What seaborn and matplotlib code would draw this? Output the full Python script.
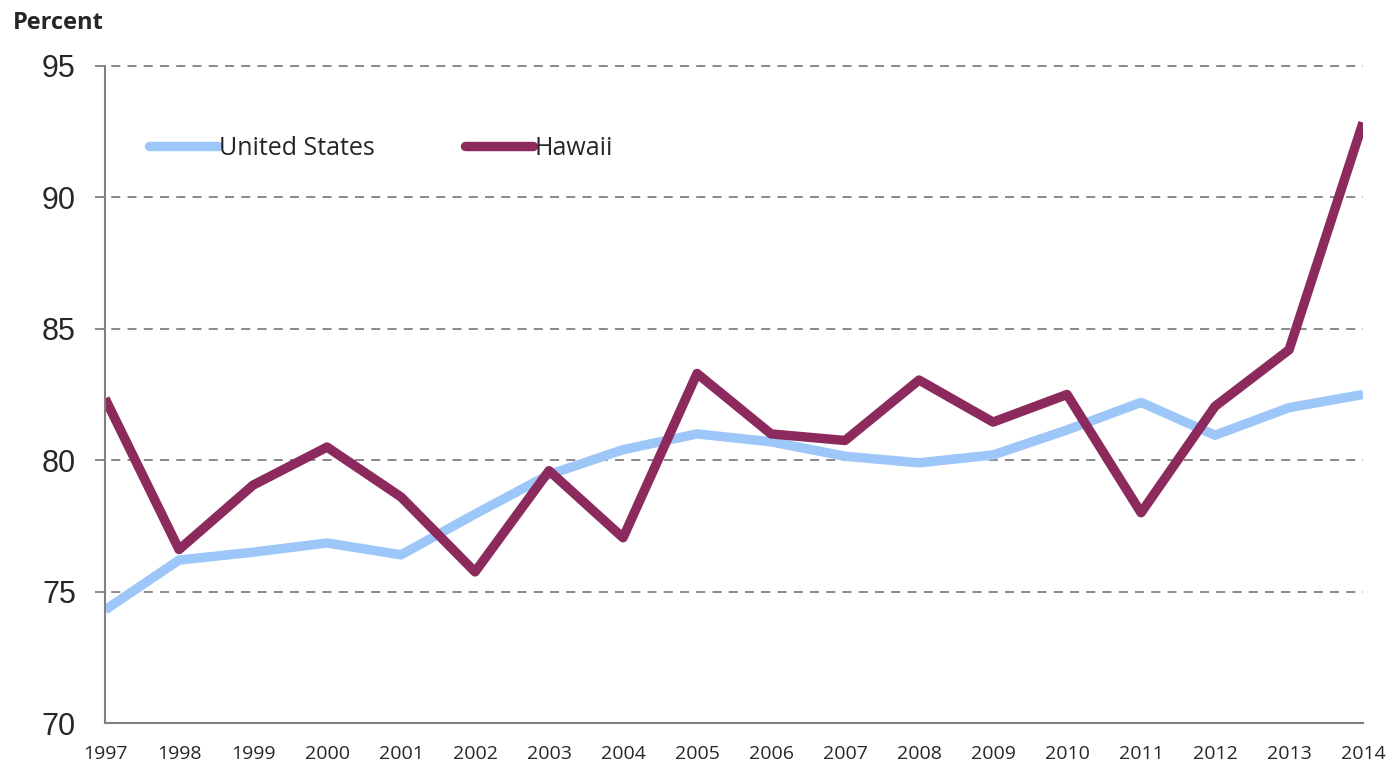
import pandas as pd
import seaborn as sns
import matplotlib.pyplot as plt
from matplotlib.lines import Line2D

# data
years = list(range(1997, 2015))
us_values = [74.3, 76.2, 76.5, 76.85, 76.4, 77.95, 79.45, 80.4, 81.0, 80.7,
             80.15, 79.9, 80.2, 81.15, 82.2, 80.95, 82.0, 82.5]
hawaii_values = [82.35, 76.6, 79.05, 80.5, 78.6, 75.75, 79.6, 77.05, 83.3, 81.0,
                 80.75, 83.05, 81.45, 82.5, 78.0, 82.05, 84.2, 92.85]
series_names = ['United States', 'Hawaii']
y_ticks = [70, 75, 80, 85, 90, 95]

df = pd.concat([
    pd.DataFrame({'year': years, 'value': us_values, 'series': series_names[0]}),
    pd.DataFrame({'year': years, 'value': hawaii_values, 'series': series_names[1]}),
])

sns.set_style('white')
plt.rcParams['font.family'] = ['Open Sans', 'DejaVu Sans']

palette = {'United States': '#9CC7F8', 'Hawaii': '#8C2A5E'}

fig = plt.figure(figsize=(13.93, 7.69), dpi=100)
ax = fig.add_axes([0.0754, 0.0598, 0.9031, 0.8544])

sns.lineplot(data=df, x='year', y='value', hue='series', palette=palette,
             linewidth=6.8, ax=ax, legend=False, solid_capstyle='butt')

ax.set_xlim(years[0], years[-1])
ax.set_ylim(70, 95)
ax.set_xticks(years)
ax.set_xticklabels([str(y) for y in years], fontsize=14)
ax.set_yticks(y_ticks)
ax.set_yticklabels([str(t) for t in y_ticks], fontsize=22,
                   family=['Liberation Sans Narrow', 'Liberation Sans', 'DejaVu Sans'])
ax.tick_params(axis='x', direction='in', length=6, color='#808080', pad=16)
ax.tick_params(axis='y', direction='out', length=8, color='#808080', pad=13)

for t in y_ticks[1:]:
    ax.axhline(t, xmin=-0.008, xmax=1.0, color='#808080', linestyle=(0, (5, 4)),
               linewidth=1.3, zorder=0, clip_on=False)

for side in ['top', 'right']:
    ax.spines[side].set_visible(False)
for side in ['left', 'bottom']:
    ax.spines[side].set_color('#808080')
    ax.spines[side].set_linewidth(1.5)

ax.set_xlabel('')
ax.set_ylabel('')

# legend in one row near the top left
handles = [Line2D([], [], color=palette[s], linewidth=6.8) for s in series_names]
leg = ax.legend(handles, series_names, loc='upper left', bbox_to_anchor=(0.017, 0.928),
                ncol=2, frameon=False, fontsize=18, handlelength=2.75,
                handletextpad=0.05, columnspacing=3.6)

fig.text(0.009, 0.97, 'Percent', fontsize=17, fontweight='bold', ha='left', va='center')

fig.savefig('out.png', dpi=100)
